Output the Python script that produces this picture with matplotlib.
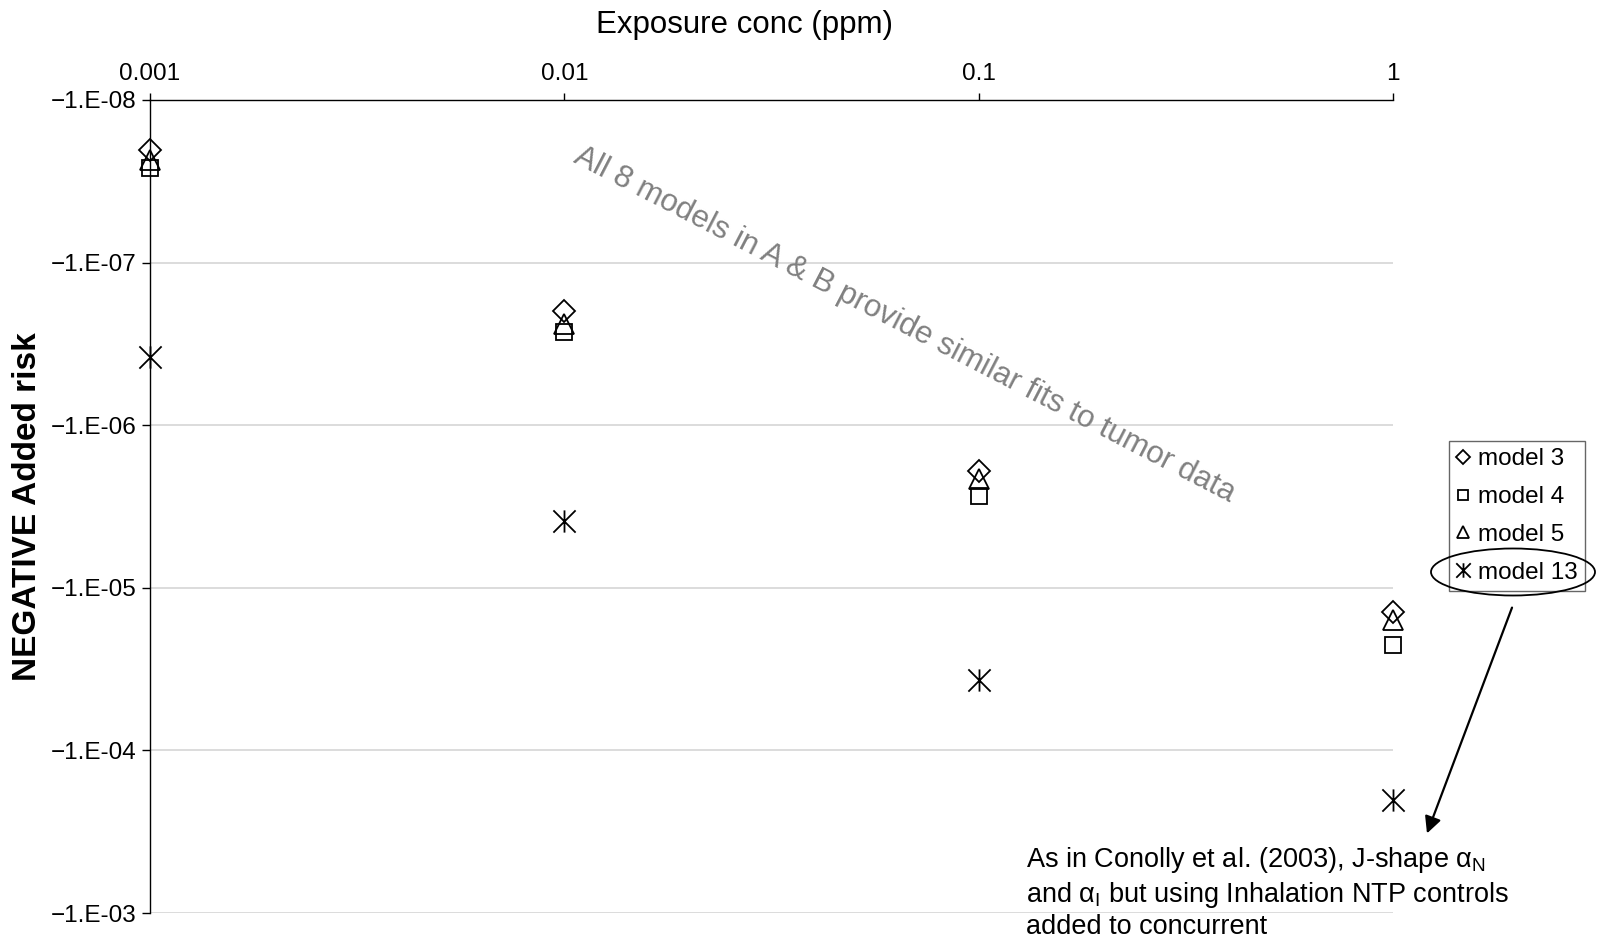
import numpy as np
import matplotlib
matplotlib.use("Agg")
import matplotlib.pyplot as plt
from matplotlib.path import Path
from matplotlib.patches import Ellipse
from matplotlib.ticker import FixedLocator, FuncFormatter, NullLocator

plt.rcParams['font.family'] = ['Liberation Sans', 'DejaVu Sans']
plt.rcParams['mathtext.fontset'] = 'custom'
plt.rcParams['mathtext.rm'] = 'Liberation Sans'
plt.rcParams['mathtext.it'] = 'Liberation Sans:italic'

# Exposure concentrations (ppm)
conc = [0.001, 0.01, 0.1, 1.0]

# Added risk (negative values) for each model
risk_model3 = [-2.03e-8, -1.99e-7, -1.91e-6, -1.40e-5]
risk_model4 = [-2.61e-8, -2.69e-7, -2.73e-6, -2.24e-5]
risk_model5 = [-2.33e-8, -2.40e-7, -2.15e-6, -1.58e-5]
risk_model13 = [-3.83e-7, -3.86e-6, -3.70e-5, -2.03e-4]

x_ticks = [0.001, 0.01, 0.1, 1]
x_tick_labels = ["0.001", "0.01", "0.1", "1"]
y_ticks = [1e-8, 1e-7, 1e-6, 1e-5, 1e-4, 1e-3]

# asterisk: vertical stroke plus an X
star_path = Path(
    [(0, -1), (0, 1), (-1, -1), (1, 1), (-1, 1), (1, -1)],
    [Path.MOVETO, Path.LINETO, Path.MOVETO, Path.LINETO, Path.MOVETO, Path.LINETO],
)

fig = plt.figure(figsize=(16.08, 9.43), dpi=100)
ax = fig.add_axes([150 / 1608, 1 - 913 / 943, (1393 - 150) / 1608, (913 - 100) / 943])

common = dict(linestyle='none', color='black', markerfacecolor='none', markeredgewidth=1.3, clip_on=False)
ax.plot(conc, -np.array(risk_model3), marker='D', markersize=11, label='model 3', **common)
ax.plot(conc, -np.array(risk_model4), marker='s', markersize=12, label='model 4', **common)
ax.plot(conc, -np.array(risk_model5), marker='^', markersize=14, label='model 5', **common)
ax.plot(conc, -np.array(risk_model13), marker=star_path, markersize=16, label='model 13',
        linestyle='none', color='black', markeredgewidth=1.3, clip_on=False)

ax.set_xscale('log')
ax.set_yscale('log')
ax.set_xlim(0.001, 1)
ax.set_ylim(1e-3, 1e-8)

ax.xaxis.tick_top()
ax.xaxis.set_major_locator(FixedLocator(x_ticks))
ax.set_xticklabels(x_tick_labels)
ax.xaxis.set_minor_locator(NullLocator())
ax.yaxis.set_major_locator(FixedLocator(y_ticks))
ax.yaxis.set_minor_locator(NullLocator())
ax.yaxis.set_major_formatter(FuncFormatter(
    lambda v, p: "\u22121.E-%02d" % int(round(-np.log10(v)))))

ax.tick_params(axis='x', which='major', direction='out', length=5, width=1, labelsize=17.5, pad=6)
ax.tick_params(axis='y', which='major', direction='out', length=6, width=1, labelsize=17.5, pad=4)

ax.grid(axis='y', color='#d9d9d9', linewidth=1.3)
ax.set_axisbelow(True)
for side in ['right', 'bottom']:
    ax.spines[side].set_visible(False)
for side in ['left', 'top']:
    ax.spines[side].set_linewidth(1.0)
    ax.spines[side].set_color('black')

ax.set_ylabel('NEGATIVE Added risk', fontsize=24, fontweight='bold', labelpad=5)
fig.text(745 / 1608, 1 - 25 / 943, 'Exposure conc (ppm)', fontsize=22.5, ha='center', va='center')

fig.text(905 / 1608, 1 - 325 / 943, 'All 8 models in A & B provide similar fits to tumor data',
         fontsize=22.5, color='#808080', rotation=-27.4, rotation_mode='anchor',
         ha='center', va='center')

leg = ax.legend(loc='upper left', bbox_to_anchor=(1449 / 1608, 1 - 441 / 943),
                bbox_transform=fig.transFigure, fontsize=17.5, frameon=True, fancybox=False,
                markerscale=0.65, handlelength=0.55, handletextpad=0.35, labelspacing=0.65,
                borderpad=0.3, borderaxespad=0)
leg.get_frame().set_edgecolor('#404040')
leg.get_frame().set_linewidth(1.0)

fig.add_artist(Ellipse((1513 / 1608, 1 - 572 / 943), 164 / 1608, 47 / 943,
                       transform=fig.transFigure, fill=False, edgecolor='black', linewidth=1.3))

ax.annotate('', xy=(1426 / 1608, 1 - 836 / 943), xycoords='figure fraction',
            xytext=(1513 / 1608, 1 - 605 / 943), textcoords='figure fraction',
            arrowprops=dict(arrowstyle='-|>', mutation_scale=25, linewidth=1.6, color='black'))

note = ("As in Conolly et al. (2003), J-shape \u03b1$_{\\mathrm{N}}$\n"
        "and \u03b1$_{\\mathrm{I}}$ but using Inhalation NTP controls\n"
        "added to concurrent")
fig.text(1026 / 1608, 1 - 845 / 943, note, fontsize=19.5, ha='left', va='top',
         linespacing=1.22)

fig.savefig('out.png', dpi=100)
